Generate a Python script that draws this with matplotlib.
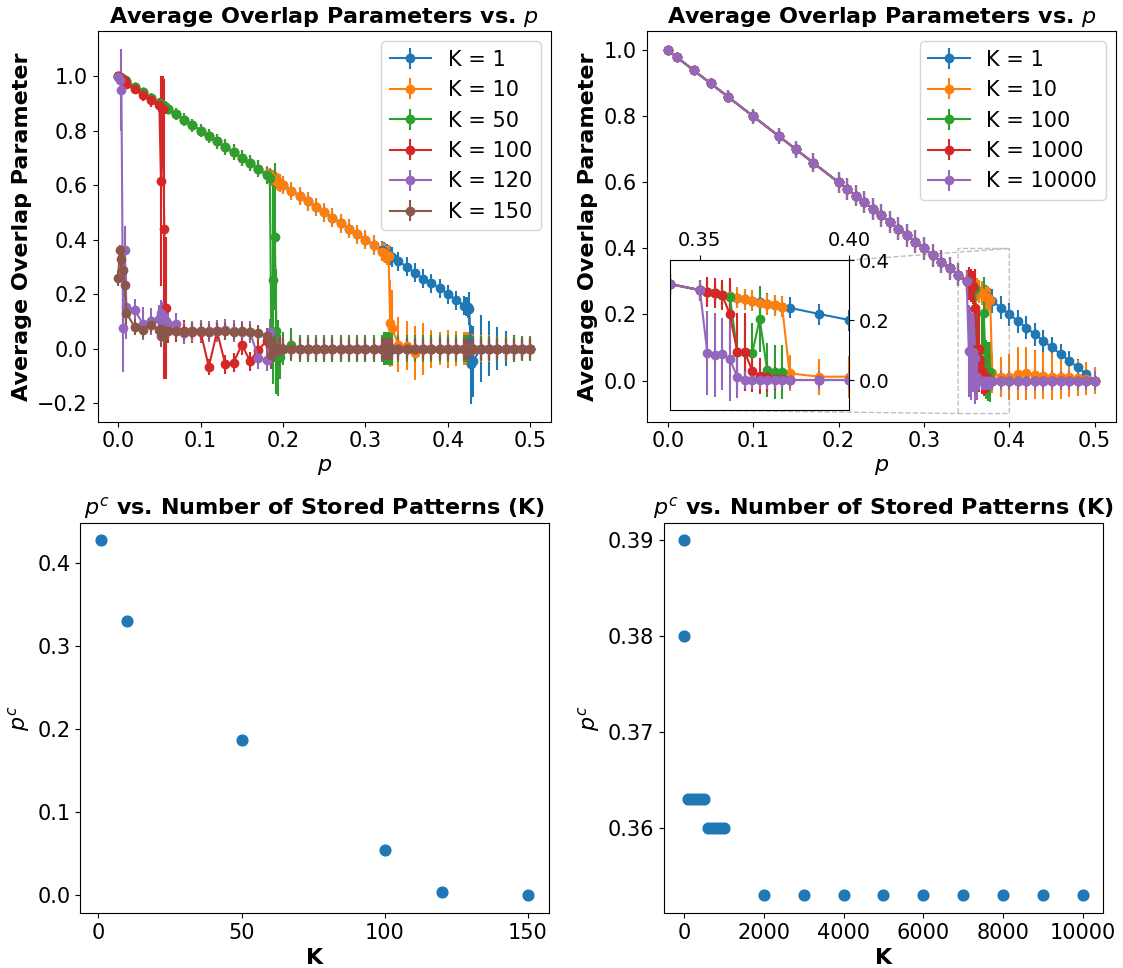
import matplotlib
matplotlib.use('Agg')
import matplotlib.pyplot as plt
import numpy as np

# ---------------- top-left: overlap vs p, small K ----------------
tl_p = [0.0, 0.002, 0.004, 0.006, 0.008,
        0.01, 0.02, 0.03, 0.04, 0.05, 0.052, 0.054, 0.056, 0.058,
        0.06, 0.07, 0.08, 0.09, 0.10, 0.11, 0.12, 0.13, 0.14, 0.15, 0.16, 0.17, 0.18,
        0.184, 0.186, 0.188, 0.19, 0.192, 0.194, 0.196,
        0.20, 0.21, 0.22, 0.23, 0.24, 0.25, 0.26, 0.27, 0.28, 0.29, 0.30, 0.31, 0.32,
        0.322, 0.324, 0.326, 0.328, 0.33, 0.332,
        0.34, 0.35, 0.36, 0.37, 0.38, 0.39, 0.40, 0.41, 0.42,
        0.422, 0.424, 0.426, 0.428,
        0.43, 0.44, 0.45, 0.46, 0.47, 0.48, 0.49, 0.50]

tl_k1 = [1.0, 0.996, 0.992, 0.988, 0.984,
         0.98, 0.96, 0.94, 0.92, 0.90, 0.896, 0.892, 0.888, 0.884,
         0.88, 0.86, 0.84, 0.82, 0.80, 0.78, 0.76, 0.74, 0.72, 0.70, 0.68, 0.66, 0.64,
         0.632, 0.628, 0.624, 0.62, 0.616, 0.612, 0.608,
         0.60, 0.58, 0.56, 0.54, 0.52, 0.50, 0.48, 0.46, 0.44, 0.42, 0.40, 0.38, 0.36,
         0.356, 0.352, 0.348, 0.344, 0.34, 0.336,
         0.321, 0.30, 0.278, 0.257, 0.239, 0.221, 0.20, 0.178, 0.157,
         0.155, 0.151, 0.147, -0.058,
         -0.047, 0.0, 0.0, 0.0, 0.0, 0.0, 0.0, 0.0]
tl_k1_err = [0.005, 0.006, 0.007, 0.008, 0.009,
             0.010, 0.013, 0.015, 0.017, 0.019, 0.019, 0.020, 0.020, 0.020,
             0.020, 0.022, 0.023, 0.024, 0.025, 0.026, 0.027, 0.028, 0.029, 0.030, 0.030, 0.031, 0.031,
             0.032, 0.032, 0.032, 0.032, 0.032, 0.032, 0.032,
             0.032, 0.033, 0.033, 0.034, 0.034, 0.034, 0.035, 0.035, 0.035, 0.035, 0.035, 0.035, 0.035,
             0.035, 0.035, 0.035, 0.035, 0.035, 0.035,
             0.035, 0.035, 0.035, 0.035, 0.035, 0.035, 0.035, 0.035, 0.035,
             0.035, 0.040, 0.060, 0.145,
             0.130, 0.124, 0.100, 0.080, 0.063, 0.050, 0.036, 0.020]

tl_k10 = [1.0, 0.996, 0.992, 0.988, 0.984,
          0.98, 0.96, 0.94, 0.92, 0.90, 0.896, 0.892, 0.888, 0.884,
          0.88, 0.86, 0.84, 0.82, 0.80, 0.78, 0.76, 0.74, 0.72, 0.70, 0.68, 0.66, 0.64,
          0.632, 0.628, 0.624, 0.62, 0.616, 0.612, 0.608,
          0.60, 0.58, 0.56, 0.54, 0.52, 0.50, 0.48, 0.46, 0.44, 0.42, 0.40, 0.38, 0.355,
          0.352, 0.348, 0.343, 0.340, 0.093, 0.075,
          0.015, 0.010, -0.016, 0.0, 0.0, 0.0, 0.0, 0.0, 0.0,
          0.0, 0.0, 0.0, 0.0,
          0.0, 0.0, 0.0, 0.0, 0.0, 0.0, 0.0, 0.0]
tl_k10_err = [0.005, 0.006, 0.007, 0.008, 0.009,
              0.010, 0.013, 0.015, 0.017, 0.019, 0.019, 0.020, 0.020, 0.020,
              0.020, 0.022, 0.023, 0.024, 0.025, 0.026, 0.027, 0.028, 0.029, 0.030, 0.030, 0.031, 0.031,
              0.032, 0.032, 0.032, 0.032, 0.032, 0.032, 0.032,
              0.032, 0.033, 0.033, 0.034, 0.034, 0.034, 0.035, 0.035, 0.035, 0.035, 0.035, 0.035, 0.035,
              0.035, 0.035, 0.035, 0.040, 0.160, 0.140,
              0.100, 0.090, 0.100, 0.095, 0.070, 0.060, 0.070, 0.065, 0.060,
              0.060, 0.060, 0.055, 0.055,
              0.055, 0.050, 0.050, 0.045, 0.045, 0.040, 0.035, 0.030]

tl_k50 = [1.0, 0.996, 0.992, 0.988, 0.984,
          0.98, 0.96, 0.94, 0.92, 0.90, 0.896, 0.892, 0.888, 0.884,
          0.88, 0.86, 0.84, 0.82, 0.80, 0.78, 0.76, 0.74, 0.72, 0.70, 0.68, 0.66, 0.636,
          0.625, -0.020, 0.250, 0.410, 0.063, -0.034, -0.030,
          0.0, 0.015, 0.0, 0.0, 0.0, 0.0, 0.0, 0.0, 0.0, 0.0, 0.0, 0.0, 0.0,
          0.0, 0.0, 0.0, 0.0, 0.0, 0.0,
          0.0, 0.0, 0.0, 0.0, 0.0, 0.0, 0.0, 0.0, 0.0,
          0.0, 0.0, 0.0, 0.0,
          0.0, 0.0, 0.0, 0.0, 0.0, 0.0, 0.0, 0.0]
tl_k50_err = [0.005, 0.006, 0.007, 0.008, 0.009,
              0.010, 0.013, 0.015, 0.017, 0.019, 0.019, 0.020, 0.020, 0.020,
              0.020, 0.022, 0.023, 0.024, 0.025, 0.026, 0.027, 0.028, 0.029, 0.030, 0.030, 0.031, 0.031,
              0.035, 0.050, 0.380, 0.270, 0.230, 0.140, 0.080,
              0.060, 0.060, 0.050, 0.050, 0.050, 0.050, 0.050, 0.050, 0.050, 0.050, 0.050, 0.050, 0.050,
              0.060, 0.060, 0.060, 0.060, 0.060, 0.060,
              0.050, 0.050, 0.050, 0.050, 0.050, 0.050, 0.050, 0.050, 0.050,
              0.050, 0.050, 0.050, 0.050,
              0.045, 0.045, 0.045, 0.045, 0.045, 0.045, 0.045, 0.045]

tl_k100 = [1.0, 0.996, 0.990, 0.986, 0.982,
           0.972, 0.954, 0.932, 0.911, 0.893, 0.615, 0.880, 0.440, 0.150,
           0.070, 0.065, 0.065, 0.060, 0.062, -0.067, 0.063, -0.058, -0.052, 0.015, -0.046, -0.004, 0.027,
           0.010, 0.0, 0.0, -0.010, 0.0, 0.0, 0.0,
           0.0, 0.0, 0.0, 0.0, 0.0, 0.0, 0.0, 0.0, 0.0, 0.0, 0.0, 0.0, 0.0,
           0.0, 0.0, 0.0, 0.0, 0.0, 0.0,
           0.0, 0.0, 0.0, 0.0, 0.0, 0.0, 0.0, 0.0, 0.0,
           0.0, 0.0, 0.0, 0.0,
           0.0, 0.0, 0.0, 0.0, 0.0, 0.0, 0.0, 0.0]
tl_k100_err = [0.005, 0.010, 0.012, 0.014, 0.015,
               0.017, 0.020, 0.022, 0.024, 0.025, 0.385, 0.120, 0.550, 0.260,
               0.050, 0.040, 0.040, 0.040, 0.040, 0.030, 0.035, 0.035, 0.035, 0.040, 0.035, 0.040, 0.040,
               0.040, 0.040, 0.040, 0.040, 0.040, 0.040, 0.040,
               0.035, 0.035, 0.035, 0.035, 0.035, 0.035, 0.035, 0.035, 0.035, 0.035, 0.035, 0.035, 0.035,
               0.035, 0.035, 0.035, 0.035, 0.035, 0.035,
               0.035, 0.035, 0.035, 0.035, 0.035, 0.035, 0.035, 0.035, 0.035,
               0.035, 0.035, 0.035, 0.035,
               0.035, 0.035, 0.035, 0.035, 0.035, 0.035, 0.035, 0.035]

tl_k120 = [0.995, 0.985, 0.950, 0.076, 0.360,
           0.154, 0.142, 0.091, 0.100, 0.110, 0.130, 0.120, 0.110, 0.100,
           0.090, 0.089, 0.057, 0.063, 0.065, 0.063, 0.065, 0.070, 0.066, 0.060, 0.062, -0.034, -0.042,
           0.060, -0.020, 0.0, 0.010, 0.0, 0.0, 0.0,
           0.0, 0.0, 0.0, 0.0, 0.0, 0.0, 0.0, 0.0, 0.0, 0.0, 0.0, 0.0, 0.0,
           0.0, 0.0, 0.0, 0.0, 0.0, 0.0,
           0.0, 0.0, 0.0, 0.0, 0.0, 0.0, 0.0, 0.0, 0.0,
           0.0, 0.0, 0.0, 0.0,
           0.0, 0.0, 0.0, 0.0, 0.0, 0.0, 0.0, 0.0]
tl_k120_err = [0.005, 0.010, 0.150, 0.160, 0.090,
               0.120, 0.040, 0.060, 0.050, 0.050, 0.050, 0.050, 0.050, 0.050,
               0.040, 0.040, 0.040, 0.040, 0.040, 0.040, 0.040, 0.040, 0.040, 0.040, 0.040, 0.040, 0.040,
               0.050, 0.050, 0.050, 0.050, 0.050, 0.050, 0.050,
               0.040, 0.040, 0.040, 0.040, 0.040, 0.040, 0.040, 0.040, 0.040, 0.040, 0.040, 0.040, 0.040,
               0.040, 0.040, 0.040, 0.040, 0.040, 0.040,
               0.040, 0.040, 0.040, 0.040, 0.040, 0.040, 0.040, 0.040, 0.040,
               0.040, 0.040, 0.040, 0.040,
               0.040, 0.040, 0.040, 0.040, 0.040, 0.040, 0.040, 0.040]

tl_k150 = [0.260, 0.360, 0.330, 0.290, 0.235,
           0.130, 0.080, 0.070, 0.088, 0.069, 0.045, 0.070, 0.050, 0.065,
           0.063, 0.065, 0.062, 0.064, 0.063, 0.062, 0.064, 0.063, 0.062, 0.063, 0.060, 0.058, 0.047,
           0.020, -0.025, 0.0, 0.005, 0.0, -0.010, 0.0,
           0.0, 0.0, 0.0, 0.0, 0.0, 0.0, 0.0, 0.0, 0.0, 0.0, 0.0, 0.0, 0.0,
           0.0, 0.0, 0.0, 0.0, 0.0, 0.0,
           0.0, 0.0, 0.0, 0.0, 0.0, 0.0, 0.0, 0.0, 0.0,
           0.0, 0.0, 0.0, 0.0,
           0.0, 0.0, 0.0, 0.0, 0.0, 0.0, 0.0, 0.0]
tl_k150_err = [0.030, 0.020, 0.030, 0.040, 0.050,
               0.050, 0.030, 0.030, 0.030, 0.030, 0.040, 0.030, 0.040, 0.030,
               0.030, 0.030, 0.030, 0.030, 0.030, 0.030, 0.030, 0.030, 0.030, 0.030, 0.030, 0.030, 0.030,
               0.050, 0.050, 0.050, 0.050, 0.050, 0.050, 0.050,
               0.040, 0.040, 0.040, 0.040, 0.040, 0.040, 0.040, 0.040, 0.040, 0.040, 0.040, 0.040, 0.040,
               0.040, 0.040, 0.040, 0.040, 0.040, 0.040,
               0.040, 0.040, 0.040, 0.040, 0.040, 0.040, 0.040, 0.040, 0.040,
               0.040, 0.040, 0.040, 0.040,
               0.040, 0.040, 0.040, 0.040, 0.040, 0.040, 0.040, 0.040]

tl_labels = ['K = 1', 'K = 10', 'K = 50', 'K = 100', 'K = 120', 'K = 150']

# ---------------- top-right: overlap vs p, large K ----------------
tr_p = [0.0, 0.01, 0.03, 0.05, 0.07, 0.10, 0.13, 0.15, 0.17,
        0.20, 0.21, 0.22, 0.23, 0.24, 0.25, 0.26, 0.27, 0.28, 0.29, 0.30, 0.31, 0.32, 0.33, 0.34, 0.35,
        0.3525, 0.355, 0.3575, 0.36, 0.3625, 0.365, 0.3675, 0.37, 0.3725, 0.375, 0.3775, 0.38,
        0.39, 0.40, 0.41, 0.42, 0.43, 0.44, 0.45, 0.46, 0.47, 0.48, 0.49, 0.50]

tr_k1 = [1.0, 0.98, 0.94, 0.90, 0.86, 0.80, 0.74, 0.70, 0.66,
         0.60, 0.58, 0.56, 0.54, 0.52, 0.50, 0.48, 0.46, 0.44, 0.42, 0.40, 0.38, 0.36, 0.34, 0.32, 0.30,
         0.295, 0.29, 0.285, 0.28, 0.275, 0.27, 0.265, 0.26, 0.255, 0.25, 0.245, 0.241,
         0.22, 0.20, 0.18, 0.16, 0.14, 0.12, 0.10, 0.08, 0.06, 0.04, 0.02, 0.0]
tr_k1_err = [0.005, 0.010, 0.013, 0.016, 0.019, 0.022, 0.025, 0.027, 0.029,
             0.031, 0.032, 0.032, 0.033, 0.033, 0.034, 0.034, 0.035, 0.035, 0.035, 0.035, 0.035, 0.035, 0.035, 0.035, 0.035,
             0.035, 0.035, 0.035, 0.035, 0.035, 0.035, 0.035, 0.035, 0.035, 0.035, 0.035, 0.035,
             0.035, 0.035, 0.035, 0.035, 0.034, 0.033, 0.032, 0.030, 0.028, 0.025, 0.022, 0.010]

tr_k10 = [1.0, 0.98, 0.94, 0.90, 0.86, 0.80, 0.74, 0.70, 0.66,
          0.60, 0.58, 0.56, 0.54, 0.52, 0.50, 0.48, 0.46, 0.44, 0.42, 0.40, 0.38, 0.36, 0.34, 0.32, 0.30,
          0.295, 0.29, 0.285, 0.28, 0.275, 0.27, 0.265, 0.258, 0.252, 0.25, 0.245, 0.022,
          0.011, 0.011, 0.020, 0.022, 0.018, 0.015, 0.012, 0.010, 0.010, 0.008, 0.005, 0.0]
tr_k10_err = [0.005, 0.010, 0.013, 0.016, 0.019, 0.022, 0.025, 0.027, 0.029,
              0.031, 0.032, 0.032, 0.033, 0.033, 0.034, 0.034, 0.035, 0.035, 0.035, 0.035, 0.035, 0.035, 0.035, 0.035, 0.035,
              0.035, 0.035, 0.035, 0.035, 0.035, 0.035, 0.035, 0.035, 0.035, 0.035, 0.035, 0.060,
              0.060, 0.070, 0.080, 0.080, 0.075, 0.070, 0.070, 0.065, 0.060, 0.055, 0.050, 0.040]

tr_k100 = [1.0, 0.98, 0.94, 0.90, 0.86, 0.80, 0.74, 0.70, 0.66,
           0.60, 0.58, 0.56, 0.54, 0.52, 0.50, 0.48, 0.46, 0.44, 0.42, 0.40, 0.38, 0.36, 0.34, 0.32, 0.30,
           0.295, 0.29, 0.285, 0.278, 0.094, 0.094, 0.091, 0.203, 0.033, 0.028, 0.026, 0.0,
           0.0, 0.0, 0.0, 0.0, 0.0, 0.0, 0.0, 0.0, 0.0, 0.0, 0.0, 0.0]
tr_k100_err = [0.005, 0.010, 0.013, 0.016, 0.019, 0.022, 0.025, 0.027, 0.029,
               0.031, 0.032, 0.032, 0.033, 0.033, 0.034, 0.034, 0.035, 0.035, 0.035, 0.035, 0.035, 0.035, 0.035, 0.035, 0.035,
               0.035, 0.035, 0.035, 0.060, 0.100, 0.100, 0.100, 0.110, 0.090, 0.090, 0.090, 0.020,
               0.015, 0.015, 0.015, 0.015, 0.015, 0.015, 0.015, 0.015, 0.015, 0.015, 0.015, 0.015]

tr_k1000 = [1.0, 0.98, 0.94, 0.90, 0.86, 0.80, 0.74, 0.70, 0.66,
            0.60, 0.58, 0.56, 0.54, 0.52, 0.50, 0.48, 0.46, 0.44, 0.42, 0.40, 0.38, 0.36, 0.34, 0.32, 0.30,
            0.294, 0.289, 0.283, 0.219, 0.094, 0.094, 0.030, 0.014, 0.010, 0.005, 0.003, 0.0,
            0.0, 0.0, 0.0, 0.0, 0.0, 0.0, 0.0, 0.0, 0.0, 0.0, 0.0, 0.0]
tr_k1000_err = [0.005, 0.010, 0.013, 0.016, 0.019, 0.022, 0.025, 0.027, 0.029,
                0.031, 0.032, 0.032, 0.033, 0.033, 0.034, 0.034, 0.035, 0.035, 0.035, 0.035, 0.035, 0.035, 0.035, 0.035, 0.035,
                0.050, 0.050, 0.050, 0.120, 0.130, 0.130, 0.070, 0.060, 0.050, 0.040, 0.030, 0.010,
                0.010, 0.010, 0.010, 0.010, 0.010, 0.010, 0.010, 0.010, 0.010, 0.010, 0.010, 0.010]

tr_k10000 = [1.0, 0.98, 0.94, 0.90, 0.86, 0.80, 0.74, 0.70, 0.66,
             0.60, 0.58, 0.56, 0.54, 0.52, 0.50, 0.48, 0.46, 0.44, 0.42, 0.40, 0.38, 0.36, 0.34, 0.32, 0.30,
             0.089, 0.082, 0.086, 0.069, 0.011, 0.0, 0.0, 0.0, 0.0, 0.0, 0.0, 0.0,
             0.0, 0.0, 0.0, 0.0, 0.0, 0.0, 0.0, 0.0, 0.0, 0.0, 0.0, 0.0]
tr_k10000_err = [0.005, 0.010, 0.013, 0.016, 0.019, 0.022, 0.025, 0.027, 0.029,
                 0.031, 0.032, 0.032, 0.033, 0.033, 0.034, 0.034, 0.035, 0.035, 0.035, 0.035, 0.035, 0.035, 0.035, 0.035, 0.035,
                 0.140, 0.140, 0.120, 0.140, 0.070, 0.030, 0.030, 0.030, 0.030, 0.030, 0.030, 0.030,
                 0.030, 0.030, 0.030, 0.030, 0.030, 0.030, 0.030, 0.030, 0.030, 0.030, 0.030, 0.030]

tr_labels = ['K = 1', 'K = 10', 'K = 100', 'K = 1000', 'K = 10000']

# ---------------- bottom: critical p vs K ----------------
k_small = [1, 10, 50, 100, 120, 150]
pc_small = [0.427, 0.330, 0.187, 0.055, 0.004, 0.0]

k_large = [1, 10, 100, 200, 300, 400, 500, 600, 700, 800, 900, 1000,
           2000, 3000, 4000, 5000, 6000, 7000, 8000, 9000, 10000]
pc_large = [0.390, 0.380, 0.363, 0.363, 0.363, 0.363, 0.363, 0.360, 0.360, 0.360, 0.360, 0.360,
            0.353, 0.353, 0.353, 0.353, 0.353, 0.353, 0.353, 0.353, 0.353]

TICK = 15
LAB = 16

W, H = 1123, 968
fig = plt.figure(figsize=(W / 100, H / 100), dpi=100)

def box(l, t, r, b):
    return [l / W, 1 - b / H, (r - l) / W, (b - t) / H]

ax1 = fig.add_axes(box(97.5, 31, 551, 421.7))
ax2 = fig.add_axes(box(646.7, 31, 1116, 421.7))
ax3 = fig.add_axes(box(80, 522.7, 549, 913))
ax4 = fig.add_axes(box(664, 522.7, 1103, 913))

tl_series = [(tl_k1, tl_k1_err), (tl_k10, tl_k10_err), (tl_k50, tl_k50_err),
             (tl_k100, tl_k100_err), (tl_k120, tl_k120_err), (tl_k150, tl_k150_err)]
for (m, e), lab in zip(tl_series, tl_labels):
    ax1.errorbar(tl_p, m, yerr=e, fmt='-o', markersize=6, label=lab)

tr_series = [(tr_k1, tr_k1_err), (tr_k10, tr_k10_err), (tr_k100, tr_k100_err),
             (tr_k1000, tr_k1000_err), (tr_k10000, tr_k10000_err)]
for (m, e), lab in zip(tr_series, tr_labels):
    ax2.errorbar(tr_p, m, yerr=e, fmt='-o', markersize=6, label=lab)

for ax in (ax1, ax2):
    ax.set_title('Average Overlap Parameters vs. $p$', fontsize=LAB, fontweight='bold')
    ax.set_xlabel('$p$', fontsize=LAB)
    ax.set_ylabel('Average Overlap Parameter', fontsize=LAB, fontweight='bold')
    ax.tick_params(labelsize=TICK)
    ax.legend(fontsize=TICK, loc='upper right')

# zoom inset
axins = ax2.inset_axes([0.0497, 0.030, 0.3822, 0.3836])
for m, e in tr_series:
    axins.errorbar(tr_p, m, yerr=e, fmt='-o', markersize=6)
axins.set_xlim(0.34, 0.40)
axins.set_ylim(-0.1, 0.4)
axins.set_xticks([0.35, 0.40])
axins.set_yticks([0.0, 0.2, 0.4])
axins.xaxis.tick_top()
axins.yaxis.tick_right()
axins.tick_params(labelsize=14)
ax2.indicate_inset_zoom(axins, edgecolor='gray', linestyle='--')

ax3.scatter(k_small, pc_small, s=60)
ax3.set_xticks([0, 50, 100, 150])
ax3.set_yticks([0.0, 0.1, 0.2, 0.3, 0.4])

ax4.scatter(k_large, pc_large, s=60)
ax4.set_xticks([0, 2000, 4000, 6000, 8000, 10000])
ax4.set_yticks([0.36, 0.37, 0.38, 0.39])

for ax in (ax3, ax4):
    ax.set_title('$p^c$ vs. Number of Stored Patterns (K)', fontsize=LAB, fontweight='bold')
    ax.set_xlabel('K', fontsize=LAB, fontweight='bold')
    ax.set_ylabel('$p^c$', fontsize=LAB)
    ax.tick_params(labelsize=TICK)

plt.savefig('out.png')
